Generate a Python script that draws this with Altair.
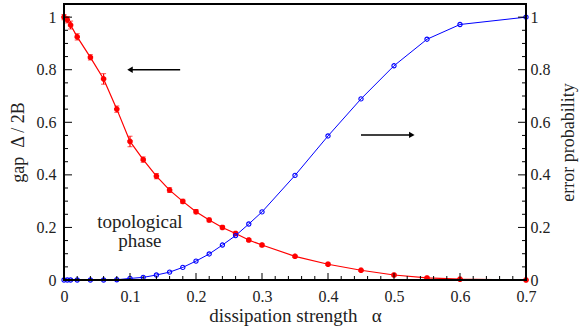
import altair as alt
import pandas as pd

# ---- data ----
alpha = [0, 0.005, 0.01, 0.02, 0.04, 0.06, 0.08, 0.1, 0.12, 0.14, 0.16, 0.18, 0.2,
         0.22, 0.24, 0.26, 0.28, 0.3, 0.35, 0.4, 0.45, 0.5, 0.55, 0.6, 0.7]
gap = [1.0, 0.99, 0.97, 0.925, 0.847, 0.765, 0.650, 0.527, 0.458, 0.395, 0.342, 0.299, 0.260,
       0.228, 0.200, 0.177, 0.152, 0.133, 0.090, 0.060, 0.037, 0.019, 0.008, 0.003, 0.0]
gap_err = [0.01, 0.012, 0.015, 0.012, 0.01, 0.02, 0.012, 0.02, 0.01, 0.01, 0.009, 0.008, 0.008,
           0.007, 0.007, 0.006, 0.006, 0.006, 0.005, 0.005, 0.004, 0.004, 0.003, 0.003, 0.002]
err_prob = [0.0, 0.0, 0.0, 0.0, 0.0, 0.0, 0.001, 0.006, 0.010, 0.019, 0.030, 0.048, 0.072,
            0.099, 0.133, 0.169, 0.213, 0.259, 0.398, 0.548, 0.689, 0.815, 0.916, 0.972, 1.0]

x_major = [0, 0.1, 0.2, 0.3, 0.4, 0.5, 0.6, 0.7]
x_minor = [0.02, 0.04, 0.06, 0.08, 0.12, 0.14, 0.16, 0.18, 0.22, 0.24, 0.26, 0.28,
           0.32, 0.34, 0.36, 0.38, 0.42, 0.44, 0.46, 0.48, 0.52, 0.54, 0.56, 0.58,
           0.62, 0.64, 0.66, 0.68]
y_major = [0, 0.2, 0.4, 0.6, 0.8, 1.0]
y_minor = [0.05, 0.1, 0.15, 0.25, 0.3, 0.35, 0.45, 0.5, 0.55, 0.65, 0.7, 0.75, 0.85, 0.9, 0.95]

arrow_tail = [0.176, 0.45]
arrow_tip = [0.10, 0.527]
arrow_y = [0.80, 0.552]
arrow_shape = ["triangle-left", "triangle-right"]

label_text = ["topological", "phase"]
label_x = [0.115, 0.115]
label_y = [0.221, 0.148]

# ---- layout ----
W, H = 462, 276
FONT = "Liberation Serif"
RED = "#ff0000"
BLUE = "#0000ff"
TXT = "#222222"

xs = alt.Scale(domain=[0, 0.7], nice=False, zero=False)
ys = alt.Scale(domain=[0, 1.05], nice=False, zero=False)

df = pd.DataFrame({"alpha": alpha, "gap": gap, "err": err_prob})
df["lo"] = [g - e for g, e in zip(gap, gap_err)]
df["hi"] = [g + e for g, e in zip(gap, gap_err)]

base = alt.Chart(df)

x_axis = alt.Axis(values=x_major, format="~g", ticks=False, domain=False, grid=False,
                  orient="bottom", labelFlush=False,
                  labelFont=FONT, labelFontSize=16, labelColor=TXT, labelPadding=8,
                  title="dissipation strength\u00a0\u00a0\u00a0α", titleFont=FONT,
                  titleFontSize=19, titleFontWeight="normal", titleColor=TXT, titlePadding=2)
left_axis = alt.Axis(values=y_major, format="~g", ticks=False, domain=False, grid=False,
                     orient="left", labelFlush=False, labelFont=FONT, labelFontSize=16,
                     labelColor=TXT, labelPadding=8, title="gap\u00a0\u00a0Δ / 2B",
                     titleFont=FONT, titleFontSize=18, titleFontWeight="normal",
                     titleColor=TXT, titlePadding=9)
right_axis = alt.Axis(values=y_major, format="~g", ticks=False, domain=False, grid=False,
                      orient="right", labelFlush=False, labelFont=FONT, labelFontSize=16,
                      labelColor=TXT, labelPadding=4, title="error probability",
                      titleFont=FONT, titleFontSize=18, titleFontWeight="normal",
                      titleColor=TXT, titleAngle=270, titleBaseline="top", titlePadding=9)

X = alt.X("alpha:Q", scale=xs, axis=x_axis)


def Yn(field):
    return alt.Y(field, scale=ys, axis=None)


# ---- frame: four thin filled bars in pixel space (one-row dataset) ----
one = pd.DataFrame({"k": [1]})
frame_bars = []
for x0, x1, y0, y1 in [(-1, W + 1, -1, 1), (-1, W + 1, H - 1, H + 1),
                       (-1, 1, -1, H + 1), (W - 1, W + 1, -1, H + 1)]:
    frame_bars.append(alt.Chart(one).mark_rect(color="black", opacity=1).encode(
        x=alt.value(x0), x2=alt.value(x1), y=alt.value(y0), y2=alt.value(y1)))

# ---- inward ticks: thin filled bars located by the scales ----
def xticks(vals, length):
    d = pd.DataFrame({"alpha": vals})
    return alt.Chart(d).mark_tick(color="black", orient="vertical", size=length,
                                  thickness=1, opacity=1).encode(
        x=X, y=alt.value(H - length / 2))


def yticks(vals, length, side):
    d = pd.DataFrame({"v": vals})
    xc = length / 2 if side == "left" else W - length / 2
    return alt.Chart(d).mark_tick(color="black", orient="horizontal", size=length,
                                  thickness=1, opacity=1).encode(
        y=Yn("v:Q"), x=alt.value(xc))


ticks = [xticks(x_major, 7), xticks(x_minor, 4),
         yticks(y_major, 8, "left"), yticks(y_minor, 4, "left"),
         yticks(y_major, 8, "right"), yticks(y_minor, 4, "right")]

red_line = base.mark_line(color=RED, strokeWidth=1.2).encode(
    x=X, y=alt.Y("gap:Q", scale=ys, axis=left_axis))
red_bar = base.mark_rule(color=RED, strokeWidth=1.2).encode(
    x=X, y=Yn("lo:Q"), y2="hi:Q")
red_cap_lo = base.mark_tick(color=RED, orient="horizontal", size=5, thickness=1).encode(
    x=X, y=Yn("lo:Q"))
red_cap_hi = base.mark_tick(color=RED, orient="horizontal", size=5, thickness=1).encode(
    x=X, y=Yn("hi:Q"))
red_pts = base.mark_point(
    shape="M-1,0L1,0M0,-1L0,1M-0.7,-0.7L0.7,0.7M-0.7,0.7L0.7,-0.7",
    color=RED, strokeWidth=2.2, size=30, filled=False, opacity=1).encode(
    x=X, y=Yn("gap:Q"))

blue_line = base.mark_line(color=BLUE, strokeWidth=1).encode(
    x=X, y=alt.Y("err:Q", scale=ys, axis=right_axis))
blue_pts = base.mark_point(shape="circle", color=BLUE, filled=False,
                           strokeWidth=1.1, size=18, opacity=1).encode(
    x=X, y=Yn("err:Q"))

adf = pd.DataFrame({"alpha": arrow_tail, "tip": arrow_tip, "y": arrow_y, "shape": arrow_shape})
arrow_shaft = alt.Chart(adf).mark_rule(color="black", strokeWidth=1.5).encode(
    x=X, x2="tip:Q", y=Yn("y:Q"))
arrow_head = alt.Chart(adf).mark_point(filled=True, color="black", size=40, opacity=1).encode(
    x=alt.X("tip:Q", scale=xs, axis=x_axis), y=Yn("y:Q"),
    shape=alt.Shape("shape:N", scale=None))

ldf = pd.DataFrame({"t": label_text, "alpha": label_x, "y": label_y})
labels = alt.Chart(ldf).mark_text(font=FONT, fontSize=19, color=TXT, align="center",
                                  baseline="middle").encode(
    x=X, y=Yn("y:Q"), text="t:N")

chart = alt.layer(
    red_line, red_bar, red_cap_lo, red_cap_hi, red_pts,
    blue_line, blue_pts, arrow_shaft, arrow_head, labels,
    *ticks, *frame_bars
).resolve_axis(y="independent").properties(
    width=W, height=H,
    autosize=alt.AutoSizeParams(type="none"),
    padding={"left": 64, "top": 4, "right": 53, "bottom": 53},
).configure(background="white",
            view=alt.ViewConfig(stroke="black", strokeWidth=2))

chart.save("out.html", embed_options={"renderer": "svg", "actions": False})
